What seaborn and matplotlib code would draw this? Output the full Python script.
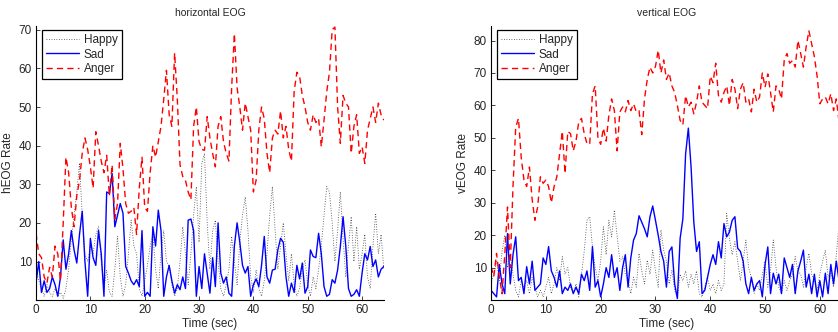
import matplotlib
matplotlib.use("Agg")
import matplotlib.pyplot as plt
import numpy as np
import seaborn as sns

# sample times (0.5 s steps, 0 .. 64 s)
t = np.arange(129) * 0.5

# horizontal EOG
h_happy = [8, 5, 3, 1, 4, 2, 1, 3, 1, 2, 0.5, 3, 8, 16, 22, 28, 35.5, 22, 12, 10,
           14, 12, 17, 19, 10, 3, 7.8, 2, 1, 8, 16.5, 6, 1, 4, 12, 20.7, 14, 12, 3, 1,
           5, 9, 14, 17.3, 8, 3, 12, 18, 10, 8.7, 4, 1, 3, 10, 19, 12, 4, 12, 22, 29.4,
           15, 35.4, 38, 20, 8, 18, 20.7, 10, 3, 1, 4, 8, 16.5, 10, 4, 15, 22, 26.8, 18, 6,
           2, 7.8, 3, 1, 5, 12, 22, 29.4, 18, 8, 14, 20, 12, 5, 12, 4, 1, 3, 8, 10.4,
           4, 1, 6, 3, 8, 14, 22, 29.4, 28, 20, 10, 18, 28, 16, 6, 14, 21.6, 10, 19, 8,
           12, 17, 6, 3, 14, 22.5, 12, 17, 8]
h_sad = [4.4, 10, 2, 5, 2, 3, 6, 4, 1, 6, 15.6, 8, 12, 18, 13, 9.6, 17, 23, 10, 1,
         16, 11, 9, 18, 12, 1, 28, 27.6, 32.8, 19, 22, 25, 22.5, 8.7, 7, 5, 4, 5.3, 3.5, 18,
         1, 2, 1, 19, 14, 23.3, 18, 1, 6, 9, 5, 1.8, 4, 2.7, 6, 3, 20.7, 21, 18, 1,
         8.7, 3, 12, 7, 1.8, 11, 3.5, 20, 7, 4.4, 6, 1.8, 1, 14, 20, 15, 9, 7, 8.7, 1,
         4, 5.5, 3.5, 9, 16.5, 6, 4.4, 7.8, 8, 13, 16, 15, 6, 1, 4.4, 2, 9, 5.5, 9.6, 1.8,
         3.5, 13, 11.3, 11, 17.3, 12, 3.5, 1, 1.5, 5.3, 4.4, 7.8, 13.9, 21.6, 14, 3, 1, 1.5, 2.7, 1,
         7, 12, 10.4, 13.9, 8.7, 10.4, 6, 8, 8.7]
h_anger = [17.3, 12, 11, 6, 4.4, 8.5, 6, 14, 12, 5, 20, 37, 33, 24, 19, 27, 31, 38, 42, 39,
           34.5, 29, 43.6, 40, 36, 33, 37.5, 27, 35, 21, 25, 40.6, 34, 25, 22.5, 23, 24, 17, 29, 37,
           24, 23, 33, 40, 37, 41, 45, 52, 59.5, 48, 45, 64, 52, 35, 32, 31, 28, 26, 45, 50,
           41, 39, 38.8, 47.5, 42, 38, 34.5, 45, 47.5, 41, 38, 36, 55, 69, 55, 50, 44, 51, 47.5, 44,
           28, 31, 44, 50, 47, 38, 33, 42, 44, 43, 49, 42, 45, 39, 36, 54, 59, 58, 53, 50,
           46, 44, 48, 46, 47, 39.7, 46.6, 54, 59, 70, 70.7, 50, 40.6, 53, 51, 50, 38, 45, 48, 38,
           39.7, 35.4, 44, 47, 50, 46, 51, 48, 46.6]

# vertical EOG
v_happy = [5, 8, 12, 6, 15, 20, 10, 14, 8, 3, 1, 6, 4, 6, 2, 7, 4, 1, 3, 1,
           4, 7, 2, 5, 10, 6, 13.4, 8, 10, 4, 2, 5, 1, 8, 15, 24.6, 25.7, 16.4, 10, 6,
           12, 22.6, 14, 24.6, 19.5, 27.7, 20, 12, 13.4, 8, 6.2, 2, 7, 4, 14.4, 9, 5, 12.3, 8, 15.4,
           9, 4, 21.6, 15.4, 12, 5, 9.3, 3, 1, 8, 6, 9, 4, 8, 5, 9, 2, 1, 4, 7,
           3, 5, 2, 6, 3, 5, 26.7, 19, 14, 18, 12, 6, 12, 18.5, 10, 7, 2, 5, 3, 8,
           12, 4, 9, 18.5, 10, 4, 2, 6, 3, 6, 8, 13.4, 9, 8, 4, 10, 14.4, 8, 6, 3,
           8, 12, 15.4, 7, 9, 4, 14, 23.6, 12]
v_sad = [3, 2, 1, 11, 5, 2, 20.5, 5, 14, 19.5, 6, 7, 2, 10.3, 5, 12, 3, 4, 5, 13,
         11, 16.5, 9, 7, 4, 9, 2, 4, 3, 5, 2, 4, 2, 8, 6, 9, 3, 16.5, 4, 6,
         1, 5, 10, 7, 14, 7, 10, 3, 10, 14, 4, 13, 18.5, 20.5, 26, 24, 22, 19.5, 25.7, 29,
         24.6, 20, 15, 12, 4, 15, 16.4, 5, 0.5, 19, 25, 45, 53, 41, 24, 15, 18, 2, 3, 7,
         11, 14, 11, 18, 13, 23.6, 19.5, 21, 24.6, 25.7, 16, 15, 12, 5, 2, 7, 3, 5, 6, 1,
         11, 16.4, 2, 8.3, 5, 8, 2, 13, 10, 7, 11, 2, 9, 12, 15.4, 4, 8, 2, 8, 1,
         6, 1, 8.3, 2, 11, 5, 12, 6, 9]
v_anger = [10.3, 7.3, 14.4, 7.3, 2, 14, 28.7, 10, 35, 53.3, 56, 44, 37, 35, 41, 31, 24.6, 28.7, 38, 36,
           37, 35, 30, 35, 38, 45, 52, 39, 52, 51.3, 46, 49, 55, 56, 51.3, 48.2, 48, 63.6, 66, 50,
           48, 53, 49, 57, 62, 58.4, 46, 58, 59.5, 58, 61.5, 58.4, 60.5, 58, 58.4, 51, 62, 68, 71.8, 70,
           72, 77, 70, 74, 68, 70, 66, 64, 60, 55.4, 54, 63, 59.5, 61, 57.4, 61, 66, 61, 60, 59,
           69, 67, 73, 63, 61, 64, 66, 60, 68, 65, 59, 65, 67, 61, 62, 58, 65, 61, 62.6, 70,
           65.6, 69.7, 64, 58, 66, 65, 62, 74, 76, 73, 73.8, 71.8, 80, 76, 71.8, 78, 83, 79, 75, 69,
           60.5, 62, 62.6, 60.5, 63.6, 58.4, 62, 55, 58]

sns.set_style("ticks")
plt.rcParams['font.family'] = ['Liberation Sans', 'DejaVu Sans']

fig = plt.figure(figsize=(8.38, 3.32), dpi=100)
ax1 = fig.add_axes([0.043, 0.096, 0.415, 0.826])
ax2 = fig.add_axes([0.586, 0.096, 0.4185, 0.826])

panels = [
    (ax1, h_happy, h_sad, h_anger, 'horizontal EOG', 'hEOG Rate', 71, range(10, 71, 10)),
    (ax2, v_happy, v_sad, v_anger, 'vertical EOG', 'vEOG Rate', 84.5, range(10, 81, 10)),
]

for ax, happy, sad, anger, title, ylab, ytop, yticks in panels:
    sns.lineplot(x=t, y=happy, ax=ax, color='0.25', lw=0.6, linestyle=(0, (1, 2)), label='Happy')
    sns.lineplot(x=t, y=sad, ax=ax, color='blue', lw=1.0, label='Sad')
    sns.lineplot(x=t, y=anger, ax=ax, color='red', lw=1.0, linestyle=(0, (4.5, 3)), label='Anger')
    ax.set_xlim(0, 64)
    ax.set_ylim(0, ytop)
    ax.set_xticks(range(0, 61, 10))
    ax.set_yticks(list(yticks))
    ax.tick_params(direction='in', length=3, labelsize=8.5, width=0.6, pad=3)
    for s in ['top', 'right']:
        ax.spines[s].set_visible(False)
    for s in ['left', 'bottom']:
        ax.spines[s].set_linewidth(0.8)
        ax.spines[s].set_color('black')
    ax.set_title(title, fontsize=7.5, pad=7)
    ax.set_xlabel('Time (sec)', fontsize=8.5, labelpad=1)
    ax.set_ylabel(ylab, fontsize=8.5, labelpad=3)
    leg = ax.legend(loc='upper left', bbox_to_anchor=(0.016, 0.985), borderaxespad=0,
                    fontsize=8.5, fancybox=False, framealpha=1, edgecolor='black',
                    handlelength=2.8, handletextpad=0.4, labelspacing=0.2,
                    borderpad=0.35)
    leg.get_frame().set_linewidth(0.9)

fig.savefig('out.png', dpi=100)
